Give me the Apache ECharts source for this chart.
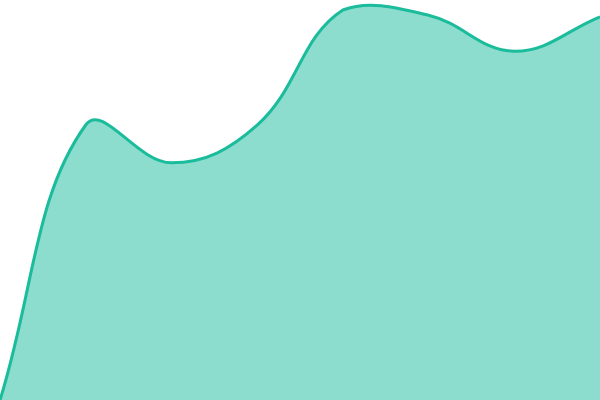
<!DOCTYPE html>
<html>
<head>
<meta charset="utf-8">
<script src="https://cdn.jsdelivr.net/npm/echarts@6/dist/echarts.min.js"></script>
<style>
  html, body { margin: 0; padding: 0; background: #fff; }
  #chart { width: 600px; height: 400px; }
</style>
</head>
<body>
<div id="chart"></div>
<script>
const categories = ["1", "2", "3", "4", "5", "6", "7", "8"];
const values = [0, 68.75, 59.3, 68.7, 97.5, 96.2, 87.2, 95.8];

const tension = 0.4;
const lineColor = "#1abc9c";
const fillColor = "rgba(26, 188, 156, 0.5)";

// spline control points (tension style), capped to the plot area
function controlPoints(pts, area) {
  const cps = [];
  const n = pts.length;
  for (let i = 0; i < n; i++) {
    const prev = pts[Math.max(i - 1, 0)];
    const cur = pts[i];
    const next = pts[Math.min(i + 1, n - 1)];
    const d01 = Math.hypot(cur[0] - prev[0], cur[1] - prev[1]);
    const d12 = Math.hypot(next[0] - cur[0], next[1] - cur[1]);
    let s01 = d01 / (d01 + d12);
    let s12 = d12 / (d01 + d12);
    if (isNaN(s01)) s01 = 0;
    if (isNaN(s12)) s12 = 0;
    const fa = tension * s01;
    const fb = tension * s12;
    const dx = next[0] - prev[0];
    const dy = next[1] - prev[1];
    const cap = (p) => [
      Math.min(Math.max(p[0], area.x), area.x + area.width),
      Math.min(Math.max(p[1], area.y), area.y + area.height),
    ];
    cps.push({
      prev: cap([cur[0] - fa * dx, cur[1] - fa * dy]),
      next: cap([cur[0] + fb * dx, cur[1] + fb * dy]),
    });
  }
  return cps;
}

function renderCurve(params, api) {
  if (params.dataIndex !== 0) return null;
  const pts = values.map((v, i) => api.coord([i, v]));
  const cps = controlPoints(pts, params.coordSys);
  let d = "M" + pts[0][0] + " " + pts[0][1];
  for (let i = 1; i < pts.length; i++) {
    const a = cps[i - 1].next;
    const b = cps[i].prev;
    d += " C" + a[0] + " " + a[1] + " " + b[0] + " " + b[1] + " " + pts[i][0] + " " + pts[i][1];
  }
  const base = api.coord([0, 0])[1];
  const last = pts[pts.length - 1];
  const area = d + " L" + last[0] + " " + base + " L" + pts[0][0] + " " + base + " Z";
  return {
    type: "group",
    children: [
      { type: "path", shape: { pathData: area }, style: { fill: fillColor, stroke: null } },
      {
        type: "path",
        shape: { pathData: d },
        style: { fill: null, stroke: lineColor, lineWidth: 3, lineJoin: "round" },
      },
    ],
  };
}

const chart = echarts.init(document.getElementById("chart"));

const option = {
  animation: false,
  grid: { left: 0, right: 0, top: 0, bottom: 0 },
  xAxis: {
    type: "category",
    data: categories,
    boundaryGap: false,
    show: false,
  },
  yAxis: {
    type: "value",
    min: 0,
    max: 100,
    show: false,
  },
  series: [
    {
      type: "custom",
      data: values.map((v, i) => [i, v]),
      encode: { x: 0, y: 1 },
      renderItem: renderCurve,
    },
  ],
};

chart.setOption(option);
</script>
</body>
</html>
